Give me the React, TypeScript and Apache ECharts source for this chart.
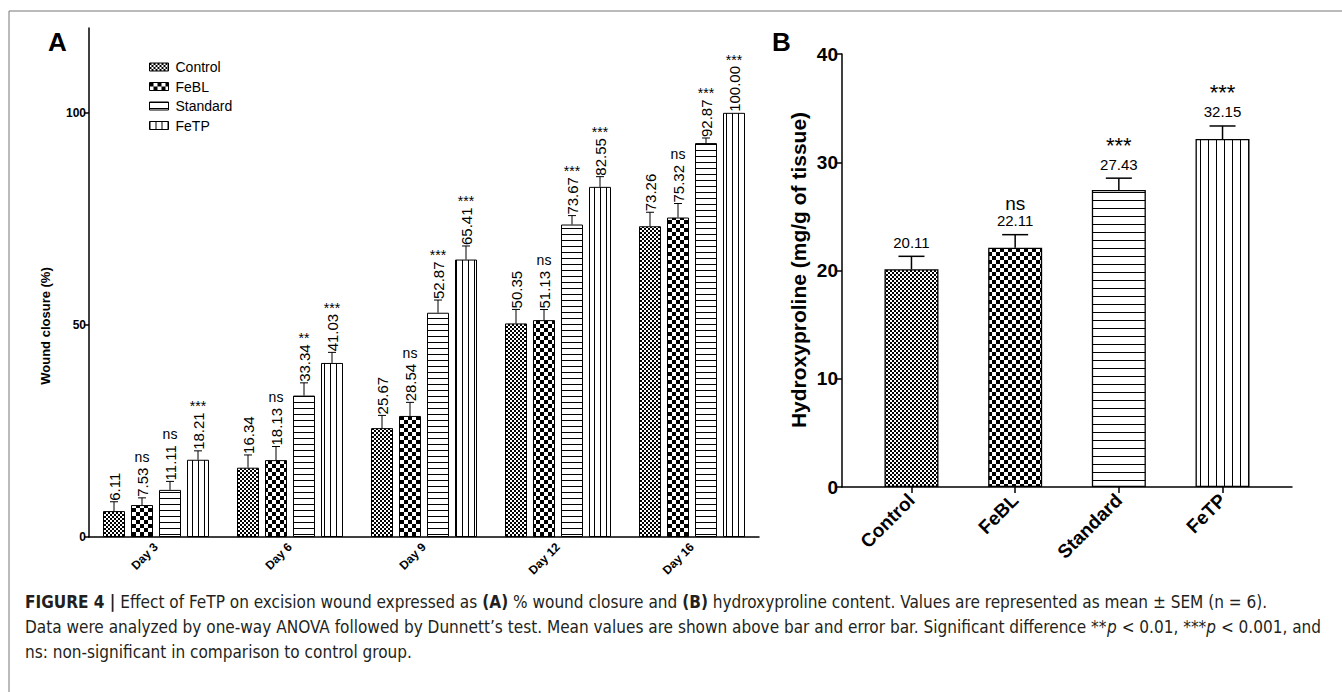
import React, { useEffect, useRef } from 'react';
import * as echarts from 'echarts';

// ---------- Data: panel A (wound closure %) ----------
const days = ['Day 3', 'Day 6', 'Day 9', 'Day 12', 'Day 16'];
const groups = ['Control', 'FeBL', 'Standard', 'FeTP'];
const controlWound = [6.11, 16.34, 25.67, 50.35, 73.26];
const feblWound = [7.53, 18.13, 28.54, 51.13, 75.32];
const standardWound = [11.11, 33.34, 52.87, 73.67, 92.87];
const fetpWound = [18.21, 41.03, 65.41, 82.55, 100.0];
const controlSem = [2.2, 3.0, 3.0, 3.3, 3.3];
const feblSem = [1.7, 3.2, 3.2, 2.5, 3.3];
const standardSem = [2.0, 3.0, 3.0, 2.1, 1.2];
const fetpSem = [2.1, 2.5, 3.2, 2.4, 0];
const controlSig = ['', '', '', '', ''];
const feblSig = ['ns', 'ns', 'ns', 'ns', 'ns'];
const standardSig = ['ns', '**', '***', '***', '***'];
const fetpSig = ['***', '***', '***', '***', '***'];
const woundTicks = [0, 50, 100];

// ---------- Data: panel B (hydroxyproline) ----------
const hypGroups = ['Control', 'FeBL', 'Standard', 'FeTP'];
const hypValues = [20.11, 22.11, 27.43, 32.15];
const hypSem = [1.2, 1.2, 1.1, 1.2];
const hypSig = ['', 'ns', '***', '***'];
const hypTicks = [0, 1, 2, 3];

const FONT = "'Liberation Sans', Arial, Helvetica, sans-serif";
const CAPFONT = "'Liberation Sans Narrow', 'DejaVu Sans Condensed', 'Liberation Sans', Arial, sans-serif";

const measureCtx = document.createElement('canvas').getContext('2d') as CanvasRenderingContext2D;
function textWidth(text: string, font: string) {
  measureCtx.font = font;
  return measureCtx.measureText(text).width;
}

function checker(n: number) {
  const c = document.createElement('canvas');
  c.width = 2 * n;
  c.height = 2 * n;
  const ctx = c.getContext('2d') as CanvasRenderingContext2D;
  ctx.fillStyle = '#fff';
  ctx.fillRect(0, 0, 2 * n, 2 * n);
  ctx.fillStyle = '#000';
  ctx.fillRect(0, 0, n, n);
  ctx.fillRect(n, n, n, n);
  return { image: c, repeat: 'repeat', imageWidth: 2 * n, imageHeight: 2 * n } as any;
}
function hlines(gap: number) {
  const c = document.createElement('canvas');
  c.width = 4;
  c.height = gap;
  const ctx = c.getContext('2d') as CanvasRenderingContext2D;
  ctx.fillStyle = '#fff';
  ctx.fillRect(0, 0, 4, gap);
  ctx.fillStyle = '#000';
  ctx.fillRect(0, 0, 4, 1);
  return { image: c, repeat: 'repeat', imageWidth: 4, imageHeight: gap } as any;
}
function vlines(gap: number) {
  const c = document.createElement('canvas');
  c.width = gap;
  c.height = 4;
  const ctx = c.getContext('2d') as CanvasRenderingContext2D;
  ctx.fillStyle = '#fff';
  ctx.fillRect(0, 0, gap, 4);
  ctx.fillStyle = '#000';
  ctx.fillRect(0, 0, 1, 4);
  return { image: c, repeat: 'repeat', imageWidth: gap, imageHeight: 4 } as any;
}

function buildOption() {
  const patA = [checker(2), checker(4), hlines(6), vlines(6)];
  const patB = [checker(2), checker(4), hlines(8), vlines(8)];
  const valuesA = [controlWound, feblWound, standardWound, fetpWound];
  const semA = [controlSem, feblSem, standardSem, fetpSem];
  const sigA = [controlSig, feblSig, standardSig, fetpSig];
  const barW = 22;
  const gap = 6;
  const offsetsA = [0, 1, 2, 3].map((i) => (i - 1.5) * (barW + gap));
  const labelFontA = `15px ${FONT}`;

  const barSeriesA = groups.map((g, gi) => ({
    name: g,
    type: 'bar',
    xAxisIndex: 0,
    yAxisIndex: 0,
    barWidth: barW,
    barGap: `${(gap / barW) * 100}%`,
    data: valuesA[gi],
    itemStyle: { color: patA[gi], borderColor: '#000', borderWidth: 1 },
    z: 2,
  }));

  const errSeriesA = groups.map((g, gi) => ({
    name: 'err-' + g,
    type: 'custom',
    xAxisIndex: 0,
    yAxisIndex: 0,
    z: 5,
    clip: false,
    data: days.map((d, i) => [i, valuesA[gi][i], semA[gi][i]]),
    encode: { x: 0, y: 1 },
    renderItem: (params: any, api: any) => {
      const ci = api.value(0);
      const v = api.value(1);
      const e = api.value(2);
      const sig = sigA[gi][params.dataIndex];
      const pBar = api.coord([ci, v]);
      const pTop = api.coord([ci, v + e]);
      const x = pBar[0] + offsetsA[gi];
      const children: any[] = [];
      if (e > 0) {
        children.push({ type: 'line', shape: { x1: x, y1: pBar[1], x2: x, y2: pTop[1] }, style: { stroke: '#000', lineWidth: 1 } });
        children.push({ type: 'line', shape: { x1: x - 4, y1: pTop[1], x2: x + 4, y2: pTop[1] }, style: { stroke: '#000', lineWidth: 1 } });
      }
      const txt = v.toFixed(2);
      const start = pTop[1] - 1;
      children.push({
        type: 'text', x, y: start, rotation: Math.PI / 2,
        style: { text: txt, fontSize: 15, fontFamily: FONT, fill: '#000', align: 'left', verticalAlign: 'middle' },
      });
      if (sig) {
        const end = start - textWidth(txt, labelFontA);
        children.push({
          type: 'text', x, y: end - (sig === 'ns' ? 11 : 6),
          style: { text: sig, fontSize: 14, fontFamily: FONT, fill: '#000', align: 'center', verticalAlign: 'middle' },
        });
      }
      return { type: 'group', children };
    },
  }));

  const barSeriesB = {
    name: 'Hydroxyproline',
    type: 'bar',
    xAxisIndex: 1,
    yAxisIndex: 1,
    barWidth: 54,
    data: hypValues.map((v, i) => ({ value: [i, v], itemStyle: { color: patB[i] } })),
    itemStyle: { borderColor: '#000', borderWidth: 1.3 },
    z: 2,
  };

  const errSeriesB = {
    name: 'err-B',
    type: 'custom',
    xAxisIndex: 1,
    yAxisIndex: 1,
    z: 5,
    clip: false,
    data: hypValues.map((v, i) => [i, v, hypSem[i]]),
    encode: { x: 0, y: 1 },
    renderItem: (params: any, api: any) => {
      const i = api.value(0);
      const v = api.value(1);
      const e = api.value(2);
      const sig = hypSig[params.dataIndex];
      const pBar = api.coord([i, v]);
      const pTop = api.coord([i, v + e]);
      const x = pBar[0];
      const children: any[] = [
        { type: 'line', shape: { x1: x, y1: pBar[1], x2: x, y2: pTop[1] }, style: { stroke: '#000', lineWidth: 1.5 } },
        { type: 'line', shape: { x1: x - 13, y1: pTop[1], x2: x + 13, y2: pTop[1] }, style: { stroke: '#000', lineWidth: 1.5 } },
        {
          type: 'text', x, y: pTop[1] - 14,
          style: { text: v.toFixed(2), fontSize: 15, fontFamily: FONT, fill: '#000', align: 'center', verticalAlign: 'middle' },
        },
      ];
      if (sig) {
        const isNs = sig === 'ns';
        children.push({
          type: 'text', x, y: pTop[1] - 22,
          style: { text: sig, fontSize: isNs ? 19 : 22, fontFamily: FONT, fill: '#000', align: 'center', verticalAlign: 'bottom' },
        });
      }
      return { type: 'group', children };
    },
  };

  // caption layout
  const capFont = `17px ${CAPFONT}`;
  const cap2 = 'Data were analyzed by one-way ANOVA followed by Dunnett\u2019s test. Mean values are shown above bar and error bar. Significant difference **p < 0.01, ***p < 0.001, and';
  const w2 = textWidth(cap2, capFont);
  const capScale = Math.min(1.2, Math.max(0.6, 1296 / w2));
  const capRich = {
    b: { fontWeight: 'bold', fontSize: 17, fontFamily: CAPFONT, fill: '#231f20' },
    i: { fontStyle: 'italic', fontSize: 17, fontFamily: CAPFONT, fill: '#231f20' },
  };
  const capLine = (text: string, y: number) => ({
    type: 'text', x: 25, y, scaleX: capScale,
    style: { text, fontSize: 17, fontFamily: CAPFONT, fill: '#231f20', align: 'left', verticalAlign: 'middle', rich: capRich },
  });

  const axisLineStyle = { color: '#000', width: 1.5 };

  return {
    animation: false,
    backgroundColor: '#fff',
    legend: {
      data: groups,
      orient: 'vertical',
      left: 144,
      top: 55,
      itemWidth: 19,
      itemHeight: 8,
      itemGap: 5.5,
      icon: 'rect',
      selectedMode: false,
      itemStyle: { borderColor: '#000', borderWidth: 1 },
      textStyle: { fontSize: 14, fontFamily: FONT, color: '#000', padding: [0, 0, 0, 2] },
    },
    grid: [
      { left: 89, top: 28, width: 670, height: 509 },
      { left: 842, top: 54, width: 450, height: 433 },
    ],
    xAxis: [
      {
        type: 'category',
        gridIndex: 0,
        data: days,
        axisLine: { lineStyle: axisLineStyle },
        axisTick: { alignWithLabel: true, length: 5, lineStyle: axisLineStyle },
        axisLabel: { rotate: 45, fontWeight: 'bold', fontSize: 12, fontFamily: FONT, color: '#000', margin: 8 },
        splitLine: { show: false },
      },
      {
        type: 'value',
        gridIndex: 1,
        min: -0.67,
        max: 3.67,
        axisLine: { onZero: false, lineStyle: axisLineStyle },
        axisTick: { show: true, customValues: hypTicks, length: 6, lineStyle: axisLineStyle },
        axisLabel: {
          customValues: hypTicks,
          formatter: (v: number) => hypGroups[Math.round(v)] ?? '',
          rotate: 45, fontWeight: 'bold', fontSize: 19, fontFamily: FONT, color: '#000', margin: 10,
        },
        splitLine: { show: false },
      },
    ],
    yAxis: [
      {
        type: 'value',
        gridIndex: 0,
        min: 0,
        max: 120,
        interval: 50,
        axisLine: { show: true, onZero: false, lineStyle: axisLineStyle },
        axisTick: { show: true, customValues: woundTicks, length: 5, lineStyle: axisLineStyle },
        axisLabel: { customValues: woundTicks, fontWeight: 'bold', fontSize: 12, fontFamily: FONT, color: '#000', margin: 3 },
        splitLine: { show: false },
      },
      {
        type: 'value',
        gridIndex: 1,
        min: 0,
        max: 40,
        interval: 10,
        axisLine: { show: true, onZero: false, lineStyle: axisLineStyle },
        axisTick: { show: true, length: 6, lineStyle: axisLineStyle },
        axisLabel: { fontWeight: 'bold', fontSize: 19, fontFamily: FONT, color: '#000', margin: 4 },
        splitLine: { show: false },
      },
    ],
    graphic: [
      { type: 'line', shape: { x1: 9, y1: 11, x2: 1342, y2: 11 }, style: { stroke: '#777', lineWidth: 1 } },
      { type: 'line', shape: { x1: 9, y1: 11, x2: 9, y2: 692 }, style: { stroke: '#777', lineWidth: 1 } },
      { type: 'text', x: 48, y: 42, style: { text: 'A', fontSize: 26, fontWeight: 'bold', fontFamily: FONT, fill: '#000', align: 'left', verticalAlign: 'middle' } },
      { type: 'text', x: 772, y: 42, style: { text: 'B', fontSize: 26, fontWeight: 'bold', fontFamily: FONT, fill: '#000', align: 'left', verticalAlign: 'middle' } },
      { type: 'text', x: 45, y: 326, rotation: Math.PI / 2, style: { text: 'Wound closure (%)', fontSize: 13, fontWeight: 'bold', fontFamily: FONT, fill: '#000', align: 'center', verticalAlign: 'middle' } },
      { type: 'text', x: 798, y: 270, rotation: Math.PI / 2, style: { text: 'Hydroxyproline (mg/g of tissue)', fontSize: 21, fontWeight: 'bold', fontFamily: FONT, fill: '#000', align: 'center', verticalAlign: 'middle' } },
      capLine('{b|FIGURE 4 |} Effect of FeTP on excision wound expressed as {b|(A)} % wound closure and {b|(B)} hydroxyproline content. Values are represented as mean ± SEM (n = 6).', 602),
      capLine('Data were analyzed by one-way ANOVA followed by Dunnett\u2019s test. Mean values are shown above bar and error bar. Significant difference **{i|p} < 0.01, ***{i|p} < 0.001, and', 627),
      capLine('ns: non-significant in comparison to control group.', 652),
    ],
    series: [...barSeriesA, ...errSeriesA, barSeriesB, errSeriesB],
  };
}

export default function App() {
  const ref = useRef<HTMLDivElement>(null);
  useEffect(() => {
    const chart = echarts.init(ref.current as HTMLDivElement, undefined, { renderer: 'svg' });
    chart.setOption(buildOption() as any);
    return () => chart.dispose();
  }, []);
  return (
    <div
      ref={ref}
      style={{ position: 'fixed', left: 0, top: 0, width: 1342, height: 692, background: '#fff' }}
    />
  );
}
